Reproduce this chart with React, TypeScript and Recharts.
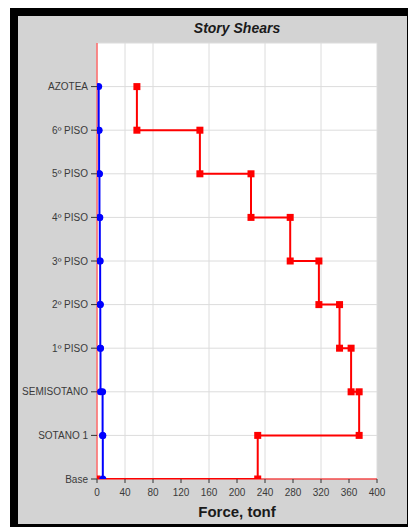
import { ScatterChart, Scatter, XAxis, YAxis, CartesianGrid } from 'recharts'

// levels from bottom (0) to top (9)
const levelLabels = [
  'Base',
  'SOTANO 1',
  'SEMISOTANO',
  '1º PISO',
  '2º PISO',
  '3º PISO',
  '4º PISO',
  '5º PISO',
  '6º PISO',
  'AZOTEA',
]

// story shear per story, top story first (AZOTEA down to SOTANO 1)
const shearRed = [57, 147, 220, 276, 317, 346.5, 363, 374.5, 229.6]
const shearBlue = [2.4, 3, 3.5, 4, 4.5, 4.7, 5, 8, 8.3]

const forceTicks = [0, 40, 80, 120, 160, 200, 240, 280, 320, 360, 400]
const levelTicks = [0, 1, 2, 3, 4, 5, 6, 7, 8, 9]

// each story is drawn as a vertical segment from its top level to its bottom level
function stepPoints(shears: number[], closeAtBase: boolean) {
  const top = shears.length
  const pts: { x: number; y: number }[] = []
  shears.forEach((v, i) => {
    pts.push({ x: v, y: top - i })
    pts.push({ x: v, y: top - i - 1 })
  })
  if (closeAtBase) pts.push({ x: 0, y: 0 })
  return pts
}

const redPoints = stepPoints(shearRed, true)
const bluePoints = stepPoints(shearBlue, false)

const font = '"Liberation Sans", Arial, sans-serif'

const Square = (props: any) => (
  <rect x={props.cx - 3.5} y={props.cy - 3.5} width={7} height={7} fill="#ff0000" />
)

const Dot = (props: any) => <circle cx={props.cx} cy={props.cy} r={3.5} fill="#0000ff" />

export default function App() {
  return (
    <div style={{ position: 'absolute', left: 0, top: 0, width: 409, height: 529, fontFamily: font }}>
      <div style={{ position: 'absolute', left: 10, top: 8, width: 398, height: 519, background: '#000' }} />
      <div style={{ position: 'absolute', left: 18, top: 16, width: 389, height: 508, background: '#d3d3d3' }} />
      <div
        style={{
          position: 'absolute',
          left: 97,
          top: 20,
          width: 280,
          textAlign: 'center',
          fontSize: 14,
          fontWeight: 'bold',
          fontStyle: 'italic',
          color: '#1a1a1a',
        }}
      >
        Story Shears
      </div>
      <div
        style={{
          position: 'absolute',
          left: 97,
          top: 503,
          width: 280,
          textAlign: 'center',
          fontSize: 15,
          fontWeight: 'bold',
          color: '#1a1a1a',
        }}
      >
        Force, tonf
      </div>
      <div style={{ position: 'absolute', left: 0, top: 0 }}>
        <ScatterChart width={409} height={529} margin={{ top: 43, right: 32, bottom: 0, left: 0 }}>
          <CartesianGrid stroke="#dcdcdc" fill="#ffffff" />
          <XAxis
            type="number"
            dataKey="x"
            domain={[0, 400]}
            ticks={forceTicks}
            height={50}
            tickSize={4}
            tickMargin={6}
            tick={{ fontSize: 10, fill: '#3a3a3a', fontFamily: font }}
            tickLine={{ stroke: '#333' }}
            axisLine={{ stroke: '#ff0000' }}
            allowDataOverflow
          />
          <YAxis
            type="number"
            dataKey="y"
            domain={[0, 10]}
            ticks={levelTicks}
            width={97}
            tickSize={6}
            tickMargin={3}
            tickFormatter={(v: number) => levelLabels[v] ?? ''}
            tick={{ fontSize: 10, fill: '#3a3a3a', fontFamily: font }}
            tickLine={{ stroke: '#333' }}
            axisLine={{ stroke: '#ff6a6a', strokeWidth: 1.5 }}
            allowDataOverflow
          />
          <Scatter
            data={redPoints}
            line={{ stroke: '#ff0000', strokeWidth: 2 }}
            lineType="joint"
            shape={Square}
            isAnimationActive={false}
          />
          <Scatter
            data={bluePoints}
            line={{ stroke: '#0000ff', strokeWidth: 2 }}
            lineType="joint"
            shape={Dot}
            isAnimationActive={false}
          />
        </ScatterChart>
      </div>
    </div>
  )
}
